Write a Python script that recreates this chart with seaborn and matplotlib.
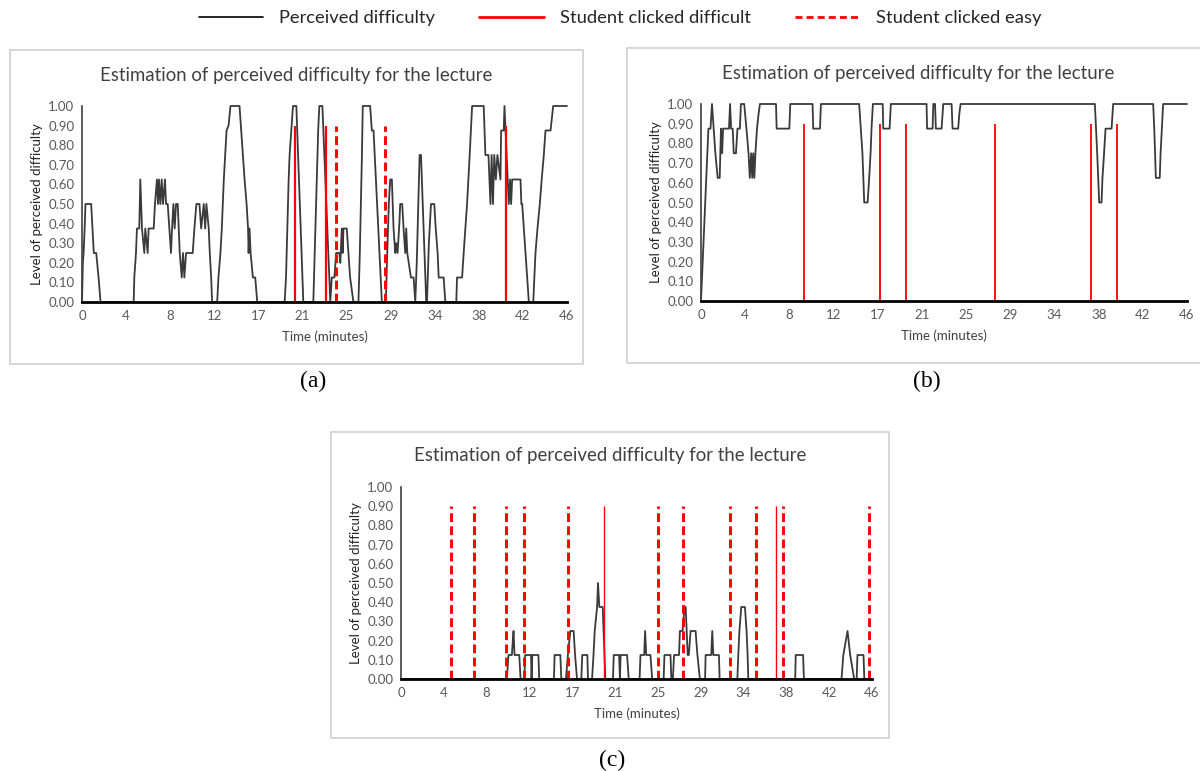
import numpy as np
import pandas as pd
import seaborn as sns
import matplotlib.pyplot as plt
from matplotlib.lines import Line2D
from matplotlib.patches import Rectangle

# ---- data (time in minutes, level of perceived difficulty) ----
a_time = [0, 0.08, 0.15, 0.25, 0.33, 0.87, 1.0, 1.12, 1.35, 1.57, 1.76,
          4.90, 4.96, 5.12, 5.21, 5.43, 5.53, 5.69, 5.91, 6.00, 6.23, 6.32, 6.80, 6.92, 7.11, 7.21, 7.30, 7.43,
          7.56, 7.68, 7.87, 7.97, 8.13, 8.29, 8.44, 8.54, 8.67, 8.79, 8.92, 9.08, 9.27, 9.46, 9.58, 9.71, 9.87,
          10.50, 10.66, 10.85, 11.14, 11.30, 11.55, 11.68, 11.80, 12.02, 12.12, 12.25, 12.34,
          12.82, 12.94, 13.13, 13.26, 13.36, 13.45, 13.58, 13.71, 13.90, 14.08, 14.94, 15.10, 15.26, 15.42, 15.61,
          15.75, 15.80, 15.89, 15.99, 16.21, 16.43, 16.62,
          19.22, 19.35, 19.47, 19.60, 19.69, 19.85, 20.01, 20.33, 20.99,
          21.94, 22.10, 22.25, 22.40, 22.51, 22.80, 23.55,
          23.69, 23.94, 24.10, 24.41, 24.50, 24.64, 24.72, 24.80, 25.11, 25.27, 25.43, 25.74,
          26.22, 26.35, 26.45, 26.55, 26.63, 27.33, 27.49, 27.65, 28.44,
          28.82, 28.95, 29.10, 29.23, 29.39, 29.55, 29.71, 29.80, 29.93, 30.10, 30.18, 30.37, 30.50, 30.66, 30.75,
          30.85, 31.20, 31.45, 31.61, 31.75, 31.90, 32.02, 32.15, 32.65,
          32.72, 32.90, 33.10, 33.41, 33.55, 33.73, 33.83, 34.30, 34.46,
          35.50, 35.57, 36.05, 36.20, 36.52, 36.77, 37.00, 38.10, 38.26, 38.55, 38.74, 38.85, 38.98, 39.10, 39.25,
          39.40, 39.69, 39.75, 40.00, 40.07, 40.48, 40.60, 40.70, 40.80, 41.59, 41.67, 41.75, 42.38,
          42.80, 43.01, 43.20, 43.42, 43.60, 43.80, 43.96, 44.44, 44.69, 46.0]
a_level = [0, 0.2, 0.25, 0.375, 0.5, 0.5, 0.375, 0.25, 0.25, 0.125, 0,
           0, 0.125, 0.25, 0.375, 0.375, 0.625, 0.375, 0.25, 0.375, 0.25, 0.375, 0.375, 0.5, 0.625, 0.5, 0.625, 0.5,
           0.625, 0.5, 0.625, 0.5, 0.5, 0.375, 0.25, 0.375, 0.5, 0.375, 0.5, 0.5, 0.25, 0.125, 0.25, 0.125, 0.25,
           0.25, 0.375, 0.5, 0.5, 0.375, 0.5, 0.375, 0.5, 0.375, 0.25, 0.125, 0,
           0, 0.125, 0.25, 0.375, 0.5, 0.625, 0.75, 0.875, 0.9, 1.0, 1.0, 0.875, 0.75, 0.625, 0.5,
           0.375, 0.25, 0.375, 0.25, 0.125, 0.125, 0,
           0, 0.125, 0.375, 0.625, 0.75, 0.875, 1.0, 1.0, 0,
           0, 0.3, 0.6, 0.875, 1.0, 1.0, 0,
           0.125, 0.125, 0.25, 0.25, 0.2, 0.375, 0.25, 0.375, 0.375, 0.25, 0.125, 0,
           0, 0.25, 0.5, 0.75, 1.0, 1.0, 0.875, 0.875, 0,
           0, 0.25, 0.5, 0.625, 0.625, 0.375, 0.25, 0.3, 0.25, 0.4, 0.5, 0.5, 0.375, 0.25, 0.375,
           0.25, 0.125, 0.125, 0, 0.2, 0.5, 0.75, 0.75, 0,
           0, 0.3, 0.5, 0.5, 0.375, 0.25, 0.125, 0.125, 0,
           0, 0.125, 0.125, 0.25, 0.5, 0.75, 1.0, 1.0, 0.75, 0.75, 0.5, 0.75, 0.5, 0.75, 0.625,
           0.75, 0.625, 0.875, 0.875, 1.0, 0.5, 0.625, 0.5, 0.625, 0.625, 0.5, 0.5, 0,
           0, 0.25, 0.375, 0.5, 0.625, 0.75, 0.875, 0.875, 1.0, 1.0]

b_time = [0, 0.1, 0.2, 0.3, 0.4, 0.5, 0.6, 0.7, 0.9, 1.04, 1.36, 1.58, 1.77, 1.89, 2.0, 2.09, 2.65, 2.75,
          2.85, 3.0, 3.1, 3.31, 3.45, 3.68, 3.78, 4.09, 4.3, 4.5, 4.62, 4.75, 4.85, 4.95, 5.05, 5.15, 5.3, 5.45,
          5.58, 7.1, 7.16, 8.36, 8.45, 10.56, 10.62, 11.26, 11.35, 14.97, 15.28, 15.45, 15.77, 15.92, 16.05,
          16.14, 16.27, 17.2, 17.25, 17.85, 17.97, 21.35, 21.4, 21.92, 21.99, 22.15, 22.23, 22.77, 22.93, 23.72,
          23.81, 24.34, 24.45, 24.57, 37.28, 37.5, 37.69, 37.91, 38.0, 38.15, 38.29, 38.86, 39.01, 42.80, 42.9,
          42.98, 43.05, 43.42, 43.5, 43.62, 43.74, 46.0]
b_level = [0, 0.125, 0.25, 0.375, 0.5, 0.625, 0.75, 0.875, 0.875, 1.0, 0.75, 0.625, 0.625, 0.875, 0.75, 0.875,
           0.875, 1.0, 0.875, 0.875, 0.75, 0.75, 0.875, 0.875, 1.0, 1.0, 0.875, 0.75, 0.625, 0.75, 0.625, 0.75,
           0.625, 0.75, 0.875, 0.95, 1.0, 1.0, 0.875, 0.875, 1.0, 1.0, 0.875, 0.875, 1.0, 1.0, 0.75, 0.5, 0.5,
           0.625, 0.75, 0.875, 1.0, 1.0, 0.875, 0.875, 1.0, 1.0, 0.875, 0.875, 1.0, 1.0, 0.875, 0.875, 1.0, 1.0,
           0.875, 0.875, 0.95, 1.0, 1.0, 0.75, 0.5, 0.5, 0.625, 0.75, 0.875, 0.875, 1.0, 1.0, 0.875, 0.75,
           0.625, 0.625, 0.75, 0.875, 1.0, 1.0]

c_time = [0, 10.34, 10.5, 10.83, 10.92, 10.99, 11.09, 11.55, 11.68, 12.05, 12.13, 12.70, 12.75, 12.82, 13.42,
          13.5, 14.94, 15.0, 15.56, 15.66, 16.11, 16.3, 16.54, 16.86, 17.0, 17.19, 17.61, 17.7, 18.2, 18.26,
          18.66, 18.8, 18.92, 19.15, 19.24, 19.37, 19.70, 19.96, 20.70, 20.78, 21.3, 21.38, 21.45, 22.08, 22.24,
          23.3, 23.39, 23.75, 23.84, 23.95, 24.36, 24.53, 25.65, 25.73, 26.32, 26.40, 26.55, 26.67, 27.15,
          27.24, 27.5, 27.69, 27.8, 28.0, 28.11, 28.28, 28.77, 28.95, 29.19, 29.70, 29.75, 30.3, 30.40, 30.5,
          31.05, 31.12, 32.85, 32.94, 33.05, 33.23, 33.59, 33.75, 33.85, 33.92, 38.50, 38.55, 39.27, 39.35,
          43.02, 43.2, 43.61, 43.87, 44.26, 44.50, 44.58, 45.17, 45.25, 46.0]
c_level = [0, 0, 0.125, 0.125, 0.2, 0.25, 0.125, 0.125, 0, 0, 0.125, 0.125, 0, 0.125, 0.125,
           0, 0, 0.125, 0.125, 0, 0, 0.125, 0.25, 0.25, 0.125, 0, 0, 0.125, 0.125, 0,
           0, 0.125, 0.25, 0.375, 0.5, 0.375, 0.375, 0, 0, 0.125, 0.125, 0, 0.125, 0.125, 0,
           0, 0.125, 0.125, 0.25, 0.125, 0.125, 0, 0, 0.125, 0.125, 0, 0, 0.125, 0.125,
           0.25, 0.25, 0.375, 0.375, 0.125, 0.125, 0.25, 0.25, 0.125, 0, 0, 0.125, 0.125, 0.25, 0.125,
           0.125, 0, 0, 0.125, 0.25, 0.375, 0.375, 0.25, 0.125, 0, 0, 0.125, 0.125, 0,
           0, 0.125, 0.25, 0.125, 0, 0, 0.125, 0.125, 0, 0]

# click times (minutes)
a_difficult = [20.2, 23.15, 40.26]
a_easy = [24.1, 28.78]
b_difficult = [9.76, 16.95, 19.4, 27.84, 36.9, 39.39]
b_easy = []
c_difficult = [19.8, 36.6]
c_easy = [4.89, 7.14, 10.27, 12.04, 16.34, 25.08, 27.53, 32.13, 34.7, 37.28, 45.69]

tick_labels = ["0", "4", "8", "12", "17", "21", "25", "29", "34", "38", "42", "46"]
title = "Estimation of perceived difficulty for the lecture"

sns.set_theme(style="white")
plt.rcParams['font.family'] = ['Lato', 'DejaVu Sans']

W, H = 1200, 771
fig = plt.figure(figsize=(12, 7.71), dpi=100)

def px(x0, y0, x1, y1):
    # pixel box (top-left origin) -> figure fraction [left, bottom, width, height]
    return [x0 / W, 1 - y1 / H, (x1 - x0) / W, (y1 - y0) / H]

panels = [
    dict(t=a_time, v=a_level, hard=a_difficult, easy=a_easy, ax=(82, 106, 567, 302),
         box=(10, 50, 583, 364), ty=75, hard_lw=1.6, tag="(a)", tag_xy=(313, 381)),
    dict(t=b_time, v=b_level, hard=b_difficult, easy=b_easy, ax=(701, 104, 1187, 301),
         box=(627, 48, 1210, 363), ty=73, hard_lw=1.3, tag="(b)", tag_xy=(927, 381)),
    dict(t=c_time, v=c_level, hard=c_difficult, easy=c_easy, ax=(401, 487, 872, 679),
         box=(331, 432, 889, 738), ty=456, hard_lw=1.0, tag="(c)", tag_xy=(612, 760)),
]

dash = (0, (3.0, 1.5))
for p in panels:
    bx0, by0, bx1, by1 = p['box']
    fig.patches.append(Rectangle((bx0 / W, 1 - by1 / H), (bx1 - bx0) / W, (by1 - by0) / H,
                                 transform=fig.transFigure, fill=False, edgecolor='#d0d0d0', lw=1.2))
    ax = fig.add_axes(px(*p['ax']))
    df = pd.DataFrame({'time': p['t'], 'level': p['v']})
    sns.lineplot(data=df, x='time', y='level', ax=ax, sort=False, estimator=None,
                 color='#3a3a3a', lw=1.3, clip_on=False, zorder=2)
    ax.vlines(p['hard'], 0, 0.9, colors='#ff0000', lw=p['hard_lw'], zorder=3)
    if p['easy']:
        ax.vlines(p['easy'], 0, 0.9, colors='#ff0000', lw=2.1, linestyles=[dash], zorder=3)
    ax.set_xlim(0, 46)
    ax.set_ylim(0, 1)
    ax.set_xticks(np.linspace(0, 46, len(tick_labels)))
    ax.set_xticklabels(tick_labels)
    ax.set_yticks(np.arange(0, 1.01, 0.1))
    ax.set_yticklabels([f"{v:.2f}" for v in np.arange(0, 1.01, 0.1)])
    ax.tick_params(axis='y', direction='inout', length=7, width=1.2, color='#404040',
                   labelsize=9.5, labelcolor='#595959', pad=2)
    ax.tick_params(axis='x', length=0, labelsize=9.5, labelcolor='#595959', pad=6)
    for s in ['top', 'right']:
        ax.spines[s].set_visible(False)
    ax.spines['left'].set_color('#404040')
    ax.spines['left'].set_linewidth(1.2)
    ax.spines['bottom'].set_color('black')
    ax.spines['bottom'].set_linewidth(2)
    ax.spines['bottom'].set_zorder(4)
    ax.set_xlabel("Time (minutes)", fontsize=9.5, color='#404040', labelpad=6)
    ax.set_ylabel("Level of perceived difficulty", fontsize=9.5, color='#222222', labelpad=4)
    ax.patch.set_alpha(0)
    fig.text((bx0 + bx1) / 2 / W, 1 - p['ty'] / H, title, ha='center', va='center',
             fontsize=13.4, color='#404040')
    fig.text(p['tag_xy'][0] / W, 1 - p['tag_xy'][1] / H, p['tag'], ha='center', va='center',
             fontsize=17, family='Liberation Serif', color='black')

handles = [Line2D([], [], color='black', lw=1.2),
           Line2D([], [], color='#ff0000', lw=2),
           Line2D([], [], color='#ff0000', lw=2, linestyle=(0, (2.5, 1.5)))]
fig.legend(handles, ["Perceived difficulty", "Student clicked difficult", "Student clicked easy"],
           loc='center', bbox_to_anchor=(620 / W, 1 - 18 / H), ncol=3, frameon=False,
           fontsize=13.2, handlelength=3.5, handletextpad=0.9, columnspacing=2.4)

fig.savefig("out.png", dpi=100)
